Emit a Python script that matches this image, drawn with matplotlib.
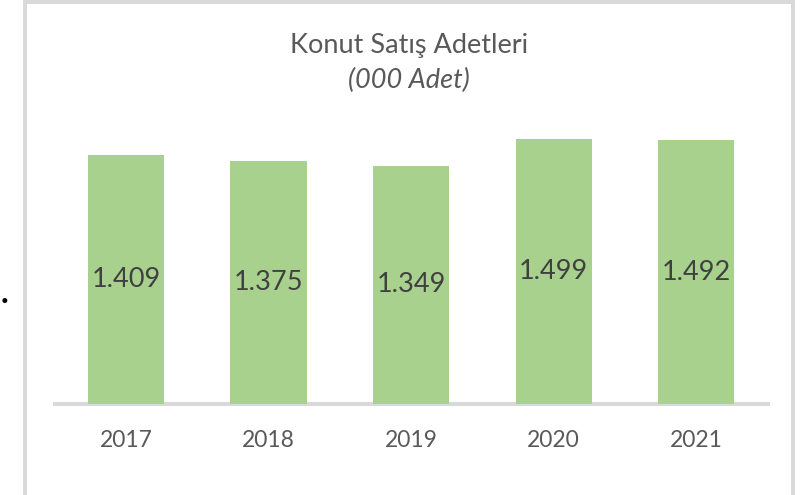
import matplotlib
matplotlib.use("Agg")
import matplotlib.pyplot as plt
from matplotlib.patches import Rectangle

years = ["2017", "2018", "2019", "2020", "2021"]
values = [1409, 1375, 1349, 1499, 1492]
labels = ["1.409", "1.375", "1.349", "1.499", "1.492"]
title = "Konut Satış Adetleri"
subtitle = "(000 Adet)"

plt.rcParams['font.family'] = ['Lato', 'DejaVu Sans']

W, H = 808, 495
fig = plt.figure(figsize=(W / 100, H / 100), dpi=100)

# outer frame
fig.patches.append(Rectangle((25 / W, -0.1), (793 - 25) / W, 1 - 1.5 / H + 0.1,
                             transform=fig.transFigure, fill=False,
                             edgecolor="#D9D9D9", linewidth=4 * 72 / 100))

ax_left, ax_right = 54.75 / W, 767.5 / W
ax_bottom = 1 - 404 / H
ymax = 1600
scale = 0.1767
ax_top = 1 - (404 - ymax * scale) / H
ax = fig.add_axes([ax_left, ax_bottom, ax_right - ax_left, ax_top - ax_bottom])

x = range(len(years))
bars = ax.bar(x, values, width=0.535, color="#A9D18E", zorder=2)
for xi, v, lab in zip(x, values, labels):
    ax.text(xi, v / 2, lab, ha="center", va="center", fontsize=19.5,
            color="#404040", zorder=3)

ax.set_xlim(-0.5, len(years) - 0.5)
ax.set_ylim(0, ymax)
ax.set_xticks(list(x))
ax.set_xticklabels(years, fontsize=16.5, color="#595959")
ax.tick_params(axis="x", length=0, pad=19)
ax.set_yticks([])
for s in ["top", "right", "left"]:
    ax.spines[s].set_visible(False)
ax.spines["bottom"].set_color("#D9D9D9")
ax.spines["bottom"].set_linewidth(4 * 72 / 100)
ax.spines["bottom"].set_zorder(1)
ax.patch.set_alpha(0)

fig.text(409 / W, 1 - 46 / H, title, ha="center", va="center",
         fontsize=19.5, color="#595959")
fig.text(409 / W, 1 - 80 / H, subtitle, ha="center", va="center",
         fontsize=19.5, color="#595959", style="italic")

# stray dot at the left edge
fig.text(1 / W, 1 - 303 / H, ".", ha="left", va="baseline",
         fontsize=24, color="black", fontweight="bold")

fig.savefig("out.png", dpi=100)
